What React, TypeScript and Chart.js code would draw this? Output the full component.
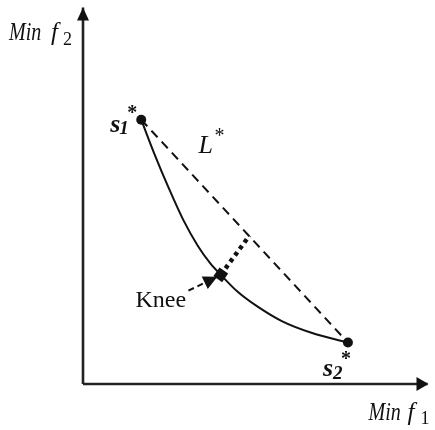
import React, { useEffect, useRef } from "react";
import { Chart, registerables } from "chart.js";

Chart.register(...registerables);

// Objective space (normalised units)
const F1_MIN = 0;
const F1_MAX = 10;
const F2_MIN = 0;
const F2_MAX = 10;

// Pareto front (curve from s1* to s2*)
const frontF1 = [1.69, 2.06, 2.49, 2.91, 3.34, 3.69, 4.0, 4.49, 5.06, 5.77, 6.63, 7.69];
const frontF2 = [7.02, 6.14, 5.2, 4.36, 3.66, 3.21, 2.9, 2.45, 2.06, 1.67, 1.36, 1.1];

// Extreme solutions and knee
const s1Point = [1.69, 7.02];
const s2Point = [7.69, 1.1];
const kneePoint = [4.0, 2.9];
const kneeFoot = [4.83, 3.94]; // projection of knee on L*
const kneeArrowStart = [3.06, 2.48];
const kneeArrowTip = [3.9, 2.85];

// Texts
const yAxisLabel = ["Min", "f", "2"];
const xAxisLabel = ["Min", "f", "1"];
const s1Label = ["s", "1", "*"];
const s2Label = ["s", "2", "*"];
const lineLabel = ["L", "*"];
const kneeLabel = "Knee";

const SERIF = "'Liberation Serif', 'Times New Roman', serif";
const INK = "#111";

const xy = (p: number[]) => ({ x: p[0], y: p[1] });

function arrowHead(ctx: CanvasRenderingContext2D, tx: number, ty: number, dx: number, dy: number, len: number, half: number) {
  const n = Math.hypot(dx, dy);
  const ux = dx / n, uy = dy / n;
  const bx = tx - ux * len, by = ty - uy * len;
  ctx.beginPath();
  ctx.moveTo(tx, ty);
  ctx.lineTo(bx - uy * half, by + ux * half);
  ctx.lineTo(bx + uy * half, by - ux * half);
  ctx.closePath();
  ctx.fill();
}

function text(ctx: CanvasRenderingContext2D, s: string, x: number, y: number, font: string, sx = 1) {
  ctx.save();
  ctx.font = font;
  ctx.translate(x, y);
  ctx.scale(sx, 1);
  ctx.textBaseline = "alphabetic";
  ctx.textAlign = "left";
  ctx.fillText(s, 0, 0);
  ctx.restore();
}

const annotPlugin = {
  id: "annot",
  afterDatasetsDraw(chart: any) {
    const ctx: CanvasRenderingContext2D = chart.ctx;
    const xs = chart.scales.x;
    const ys = chart.scales.y;
    const P = (p: number[]) => [xs.getPixelForValue(p[0]), ys.getPixelForValue(p[1])];
    ctx.save();
    ctx.fillStyle = INK;

    // axis arrowheads
    const [ox, oy] = P([F1_MIN, F2_MIN]);
    const [xe] = P([F1_MAX, F2_MIN]);
    const [, ye] = P([F1_MIN, F2_MAX]);
    arrowHead(ctx, xe + 1, oy, 1, 0, 12, 7);
    arrowHead(ctx, ox, ye, 0, -1, 13, 6);

    // knee arrow head
    const [ax, ay] = P(kneeArrowStart);
    const [tx, ty] = P(kneeArrowTip);
    arrowHead(ctx, tx, ty, tx - ax, ty - ay, 14, 7);

    // y-axis label
    text(ctx, yAxisLabel[0], ox - 74, ye + 32, `italic 25px ${SERIF}`, 0.8);
    text(ctx, yAxisLabel[1], ox - 32, ye + 32, `italic 25px ${SERIF}`);
    text(ctx, yAxisLabel[2], ox - 20, ye + 37, `18px ${SERIF}`);

    // x-axis label
    text(ctx, xAxisLabel[0], xe - 59, oy + 36, `italic 25px ${SERIF}`, 0.8);
    text(ctx, xAxisLabel[1], xe - 20, oy + 36, `italic 25px ${SERIF}`);
    text(ctx, xAxisLabel[2], xe - 7, oy + 40, `18px ${SERIF}`);

    // s1*
    const [s1x, s1y] = P(s1Point);
    text(ctx, s1Label[0], s1x - 31, s1y + 12, `bold italic 26px ${SERIF}`);
    text(ctx, s1Label[1], s1x - 22, s1y + 14, `bold italic 19px ${SERIF}`);
    text(ctx, s1Label[2], s1x - 14, s1y - 1, `bold 20px ${SERIF}`);

    // s2*
    const [s2x, s2y] = P(s2Point);
    text(ctx, s2Label[0], s2x - 25, s2y + 33, `bold italic 26px ${SERIF}`);
    text(ctx, s2Label[1], s2x - 15, s2y + 36, `bold italic 19px ${SERIF}`);
    text(ctx, s2Label[2], s2x - 7, s2y + 22, `bold 20px ${SERIF}`);

    // L*
    const [fx, fy] = P(kneeFoot);
    text(ctx, lineLabel[0], fx - 51, fy - 83, `italic 26px ${SERIF}`);
    text(ctx, lineLabel[1], fx - 35, fy - 94, `20px ${SERIF}`);

    // Knee
    text(ctx, kneeLabel, ax - 53, ay + 16, `24px ${SERIF}`);

    ctx.restore();
  },
};

export default function App() {
  const ref = useRef<HTMLCanvasElement | null>(null);

  useEffect(() => {
    if (!ref.current) return;
    const front = frontF1.map((v, i) => ({ x: v, y: frontF2[i] }));
    const chart = new Chart(ref.current, {
      type: "line",
      data: {
        datasets: [
          {
            label: "front",
            data: front,
            borderColor: INK,
            borderWidth: 2,
            pointRadius: 0,
            cubicInterpolationMode: "monotone",
            fill: false,
            clip: false,
          },
          {
            label: "L*",
            data: [xy(s1Point), xy(s2Point)],
            borderColor: INK,
            borderWidth: 2,
            borderDash: [9, 6],
            pointRadius: 0,
            clip: false,
          },
          {
            label: "dist",
            data: [xy(kneePoint), xy(kneeFoot)],
            borderColor: INK,
            borderWidth: 4.5,
            borderDash: [4, 4],
            pointRadius: 0,
            clip: false,
          },
          {
            label: "kneeArrow",
            data: [xy(kneeArrowStart), xy(kneeArrowTip)],
            borderColor: INK,
            borderWidth: 2,
            borderDash: [6, 4],
            pointRadius: 0,
            clip: false,
          },
          {
            label: "xAxis",
            data: [{ x: F1_MIN, y: F2_MIN }, { x: F1_MAX, y: F2_MIN }],
            borderColor: "#222",
            borderWidth: 2.6,
            pointRadius: 0,
            clip: false,
          },
          {
            label: "yAxis",
            data: [{ x: F1_MIN, y: F2_MIN }, { x: F1_MIN, y: F2_MAX }],
            borderColor: "#222",
            borderWidth: 2.6,
            pointRadius: 0,
            clip: false,
          },
          {
            label: "extremes",
            data: [xy(s1Point), xy(s2Point)],
            showLine: false,
            pointStyle: "circle",
            pointRadius: 5,
            pointBackgroundColor: INK,
            pointBorderColor: INK,
            pointBorderWidth: 0,
            clip: false,
          },
          {
            label: "knee",
            data: [xy(kneePoint)],
            showLine: false,
            pointStyle: "rect",
            pointRadius: 7.5,
            pointRotation: 35,
            pointBackgroundColor: INK,
            pointBorderColor: INK,
            pointBorderWidth: 0,
            clip: false,
          },
        ] as any,
      },
      options: {
        responsive: false,
        animation: false,
        devicePixelRatio: 1,
        layout: { padding: { left: 83, right: 2, top: 1, bottom: 46 } },
        plugins: { legend: { display: false }, tooltip: { enabled: false } },
        events: [],
        scales: {
          x: { type: "linear", min: F1_MIN, max: F1_MAX, display: false },
          y: { type: "linear", min: F2_MIN, max: F2_MAX, display: false },
        },
      },
      plugins: [annotPlugin],
    });
    return () => chart.destroy();
  }, []);

  return (
    <div style={{ position: "absolute", left: 0, top: 0, width: 435, height: 430, background: "#fff" }}>
      <canvas ref={ref} width={435} height={430} style={{ display: "block" }} />
    </div>
  );
}
